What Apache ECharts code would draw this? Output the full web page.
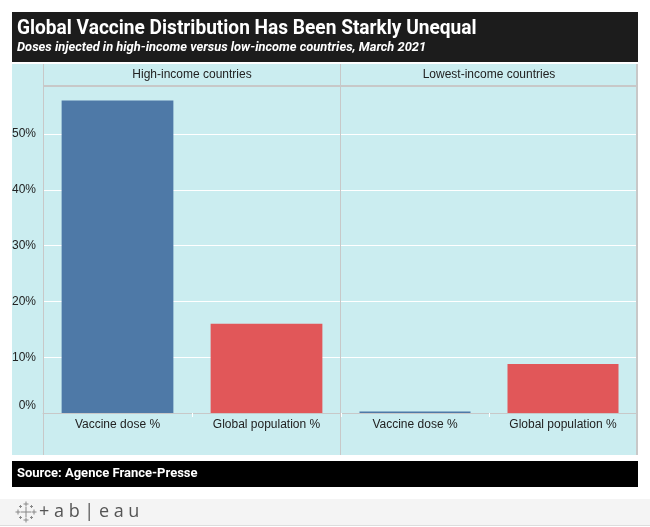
<!DOCTYPE html>
<html><head><meta charset="utf-8">
<script src="https://cdn.jsdelivr.net/npm/echarts@6/dist/echarts.min.js"></script>
<style>html,body{margin:0;padding:0;background:#fff}#c{width:650px;height:527px}</style>
</head><body><div id="c"></div>
<script>
const titleText = 'Global Vaccine Distribution Has Been Starkly Unequal';
const subtitleText = 'Doses injected in high-income versus low-income countries, March 2021';
const sourceText = 'Source: Agence France-Presse';
const panels = ['High-income countries', 'Lowest-income countries'];
const categories = ['Vaccine dose %', 'Global population %'];
const highIncome = [56, 16];
const lowIncome = [0.25, 8.8];
const barColors = ['#4e79a7', '#e15759'];
const yMax = 58.6;

const chart = echarts.init(document.getElementById('c'), null, {renderer: 'canvas'});
const bg = '#cbedf0';
const lineC = '#c8c8c8';
const LBL = {fontFamily: 'Liberation Sans, Arial', fontSize: 12, color: '#222'};

function mkData(vals) {
  return vals.map((v, i) => ({value: v, itemStyle: {color: barColors[i]}}));
}
const grids = [
  {left: 43, width: 298, top: 86, height: 327},
  {left: 341, width: 296, top: 86, height: 327}
];
const xAxes = [0, 1].map(i => ({
  type: 'category', gridIndex: i, data: categories,
  axisLine: {show: true, lineStyle: {color: lineC, width: 1}},
  axisTick: {show: true, length: 4, inside: false, lineStyle: {color: '#ffffff'}},
  axisLabel: Object.assign({margin: 6}, LBL),
  splitLine: {show: false}
}));
const yAxes = [0, 1].map(i => ({
  type: 'value', gridIndex: i, min: 0, max: yMax, interval: 10,
  axisLine: {show: false}, axisTick: {show: false},
  axisLabel: i === 0 ? Object.assign({
    margin: 7,
    formatter: v => {
      if (Math.abs(v % 10) > 0.001) return '';
      return v === 0 ? '{z|0%}' : v + '%';
    },
    rich: {z: Object.assign({padding: [0, 0, 14, 0]}, LBL)}
  }, LBL) : {show: false},
  splitLine: {show: true, lineStyle: {color: '#ffffff', width: 1}}
}));

const graphic = [
  {type: 'rect', shape: {x: 12, y: 64, width: 625, height: 391}, style: {fill: bg}, z: -10, silent: true},
  {type: 'rect', shape: {x: 12, y: 12, width: 626, height: 50}, style: {fill: '#1c1c1c'}, z: 10},
  {type: 'text', x: 17, y: 19, scaleX: 0.955, style: {text: titleText, fill: '#fff', font: 'bold 20px Roboto', textVerticalAlign: 'top'}, z: 11},
  {type: 'text', x: 17, y: 41, scaleX: 0.99, style: {text: subtitleText, fill: '#fff', font: 'italic bold 13px Roboto', textVerticalAlign: 'top'}, z: 11},
  {type: 'rect', shape: {x: 43, y: 85, width: 594, height: 2}, style: {fill: lineC}, z: 20},
  {type: 'line', shape: {x1: 43.5, y1: 64, x2: 43.5, y2: 455}, style: {stroke: lineC, lineWidth: 1}, z: 20},
  {type: 'line', shape: {x1: 340.5, y1: 64, x2: 340.5, y2: 455}, style: {stroke: lineC, lineWidth: 1}, z: 20},
  {type: 'line', shape: {x1: 637, y1: 64, x2: 637, y2: 455}, style: {stroke: lineC, lineWidth: 2}, z: 20},
  {type: 'text', x: 192, y: 75, style: {text: panels[0], fill: '#222', font: '12px "Liberation Sans", Arial', textAlign: 'center', textVerticalAlign: 'middle'}, z: 20},
  {type: 'text', x: 489, y: 75, style: {text: panels[1], fill: '#222', font: '12px "Liberation Sans", Arial', textAlign: 'center', textVerticalAlign: 'middle'}, z: 20},
  {type: 'rect', shape: {x: 12, y: 461, width: 626, height: 26}, style: {fill: '#000'}, z: 10},
  {type: 'text', x: 17, y: 474, style: {text: sourceText, fill: '#fff', font: 'bold 13px Roboto', textVerticalAlign: 'middle'}, z: 11},
  {type: 'rect', shape: {x: 0, y: 499, width: 650, height: 27}, style: {fill: '#f4f4f4'}, z: 10},
  {type: 'line', shape: {x1: 0, y1: 525.5, x2: 650, y2: 525.5}, style: {stroke: '#dddddd', lineWidth: 1}, z: 11},
  {type: 'text', x: 39, y: 512, style: {text: '+ a b | e a u', fill: '#555', font: '18px "Open Sans"', textVerticalAlign: 'middle'}, z: 11}
];
// tableau icon: small crosses
const crosses = [[26,512,5],[26,504,2.5],[26,520,2.5],[18,512,2.5],[34,512,2.5],[20.5,506.5,1.5],[31.5,506.5,1.5],[20.5,517.5,1.5],[31.5,517.5,1.5]];
crosses.forEach(c => {
  graphic.push({type: 'line', shape: {x1: c[0]-c[2], y1: c[1], x2: c[0]+c[2], y2: c[1]}, style: {stroke: '#888', lineWidth: 1}, z: 11});
  graphic.push({type: 'line', shape: {x1: c[0], y1: c[1]-c[2], x2: c[0], y2: c[1]+c[2]}, style: {stroke: '#888', lineWidth: 1}, z: 11});
});

chart.setOption({
  animation: false,
  backgroundColor: '#ffffff',
  grid: grids,
  xAxis: xAxes,
  yAxis: yAxes,
  series: [
    {type: 'bar', xAxisIndex: 0, yAxisIndex: 0, data: mkData(highIncome), barCategoryGap: '25%'},
    {type: 'bar', xAxisIndex: 1, yAxisIndex: 1, data: mkData(lowIncome), barCategoryGap: '25%'}
  ],
  graphic: graphic
});
</script></body></html>
